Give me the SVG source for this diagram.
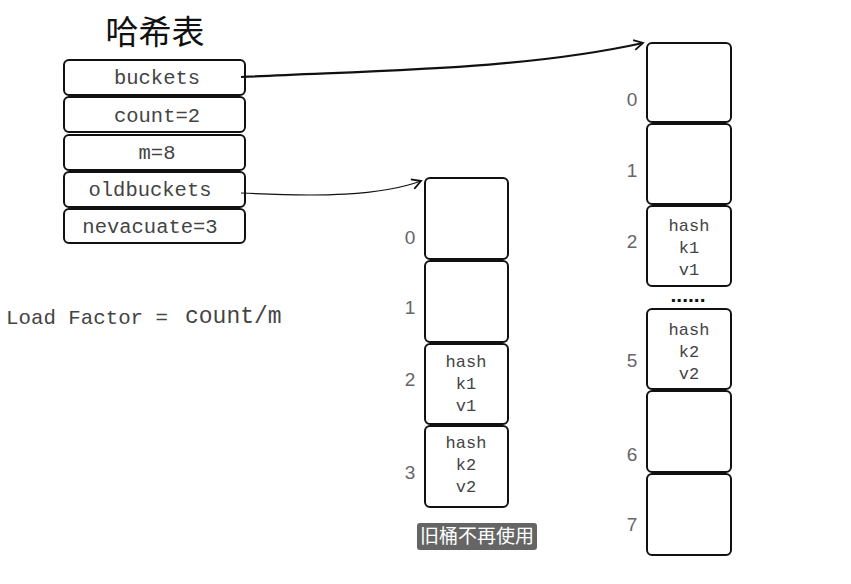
<svg xmlns="http://www.w3.org/2000/svg" width="851" height="584" viewBox="0 0 851 584">
<defs>
<style>
.box{fill:#fff;stroke:#111;stroke-width:2;}
.t{font-family:"Liberation Mono",monospace;fill:#444;text-anchor:middle;}
.f{font-size:20.5px;}
.c{font-size:17px;}
.n{font-family:"Liberation Sans",sans-serif;font-size:19px;fill:#666;text-anchor:middle;}
.ln{fill:none;stroke:#111;}
</style>
<marker id="ah" viewBox="0 0 12 12" refX="10" refY="6" markerWidth="12" markerHeight="12" markerUnits="userSpaceOnUse" orient="auto">
<path d="M1,1 L10,6 L1,11" fill="none" stroke="#111" stroke-width="1.8"/>
</marker>
</defs>
<rect width="851" height="584" fill="#fff"/>
<text x="155" y="44" font-family="'Noto Sans CJK SC',sans-serif" font-size="33" fill="#111" text-anchor="middle">哈希表</text>
<g id="hashtable">
<g id="f-buckets"><rect class="box" x="64" y="60" width="181" height="35" rx="5"/><text class="t f" x="157" y="84">buckets</text></g>
<g id="f-count"><rect class="box" x="64" y="97" width="181" height="35" rx="5"/><text class="t f" x="157" y="122">count=2</text></g>
<g id="f-m"><rect class="box" x="64" y="135" width="181" height="35" rx="5"/><text class="t f" x="157" y="159">m=8</text></g>
<g id="f-oldbuckets"><rect class="box" x="64" y="172" width="181" height="35" rx="5"/><text class="t f" x="150" y="196">oldbuckets</text></g>
<g id="f-nevacuate"><rect class="box" x="64" y="209" width="181" height="34" rx="5"/><text class="t f" x="150" y="233">nevacuate=3</text></g>
</g>
<text x="6" y="324" font-family="'Liberation Mono',monospace" font-size="21" fill="#444" textLength="162" lengthAdjust="spacingAndGlyphs">Load Factor =</text>
<text x="185" y="323" font-family="'Liberation Mono',monospace" font-size="23" fill="#444">count/m</text>
<g id="old">
<g id="old0"><rect class="box" x="425" y="178" width="83" height="81" rx="5"/><text class="n" x="410" y="244">0</text></g>
<g id="old1"><rect class="box" x="425" y="261" width="83" height="81" rx="5"/><text class="n" x="410" y="314">1</text></g>
<g id="old2"><rect class="box" x="425" y="344" width="83" height="80" rx="5"/><text class="n" x="410" y="386">2</text>
<text class="t c" x="466" y="367">hash</text><text class="t c" x="466" y="389">k1</text><text class="t c" x="466" y="411">v1</text></g>
<g id="old3"><rect class="box" x="425" y="426" width="83" height="81" rx="5"/><text class="n" x="410" y="479">3</text>
<text class="t c" x="466" y="448">hash</text><text class="t c" x="466" y="470">k2</text><text class="t c" x="466" y="492">v2</text></g>
</g>
<g id="caption">
<rect x="417" y="523" width="120" height="27" rx="3" fill="#4a4a4a" opacity="0.85"/>
<text x="477" y="543" font-family="'Noto Sans CJK SC',sans-serif" font-size="19" fill="#fff" text-anchor="middle">旧桶不再使用</text>
</g>
<g id="new">
<g id="new0"><rect class="box" x="647" y="43" width="84" height="79" rx="5"/><text class="n" x="632" y="106">0</text></g>
<g id="new1"><rect class="box" x="647" y="124" width="84" height="80" rx="5"/><text class="n" x="632" y="177">1</text></g>
<g id="new2"><rect class="box" x="647" y="206" width="84" height="80" rx="5"/><text class="n" x="632" y="248">2</text>
<text class="t c" x="689" y="231">hash</text><text class="t c" x="689" y="253">k1</text><text class="t c" x="689" y="275">v1</text></g>
<text x="688" y="302" font-family="'Liberation Sans',sans-serif" font-size="21" font-weight="bold" fill="#111" text-anchor="middle">......</text>
<g id="new5"><rect class="box" x="647" y="309" width="84" height="80" rx="5"/><text class="n" x="632" y="367">5</text>
<text class="t c" x="689" y="335">hash</text><text class="t c" x="689" y="357">k2</text><text class="t c" x="689" y="379">v2</text></g>
<g id="new6"><rect class="box" x="647" y="391" width="84" height="81" rx="5"/><text class="n" x="632" y="461">6</text></g>
<g id="new7"><rect class="box" x="647" y="474" width="84" height="81" rx="5"/><text class="n" x="632" y="531">7</text></g>
</g>
<g id="connectors">
<path class="ln" stroke-width="2.2" d="M241,77 C380,70 520,70 643,43" marker-end="url(#ah)"/>
<path class="ln" stroke-width="1.2" d="M241,193 C320,197 380,196 421,181" marker-end="url(#ah)"/>
</g>
</svg>
